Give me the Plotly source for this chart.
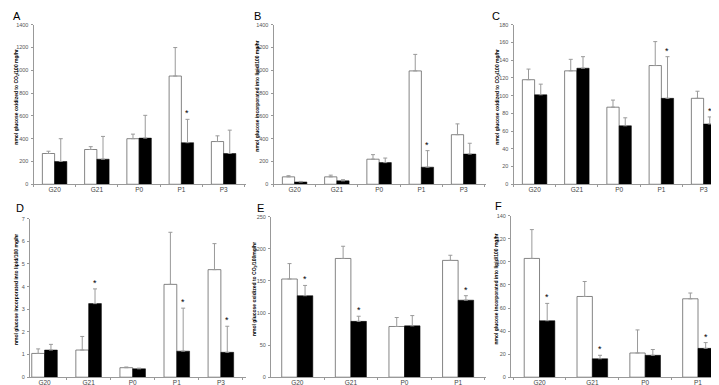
import plotly.graph_objects as go

# ---------------- data ----------------
cats5 = ["G20", "G21", "P0", "P1", "P3"]
cats4 = ["G20", "G21", "P0", "P1"]

A_white = [270, 305, 400, 950, 375]
A_white_err = [20, 25, 40, 250, 50]
A_black = [200, 220, 405, 365, 270]
A_black_err = [200, 200, 200, 205, 205]
A_stars = ["P1"]

B_white = [65, 65, 220, 995, 435]
B_white_err = [10, 15, 40, 145, 95]
B_black = [20, 30, 190, 150, 265]
B_black_err = [5, 10, 40, 145, 95]
B_stars = ["P1"]

C_white = [118, 128, 87, 134, 97]
C_white_err = [12, 13, 8, 27, 8]
C_black = [101, 131, 66, 97, 68]
C_black_err = [12, 13, 9, 47, 8]
C_stars = ["P1", "P3"]

D_white = [1.05, 1.2, 0.42, 4.1, 4.75]
D_white_err = [0.2, 0.6, 0.03, 2.3, 1.15]
D_black = [1.2, 3.25, 0.37, 1.15, 1.1]
D_black_err = [0.25, 0.65, 0.03, 1.9, 1.15]
D_stars = ["G21", "P1", "P3"]

E_white = [153, 185, 79, 182]
E_white_err = [24, 19, 14, 8]
E_black = [127, 87, 80, 120]
E_black_err = [16, 8, 16, 7]
E_stars = ["G20", "G21", "P1"]

F_white = [103, 70, 21, 68]
F_white_err = [25, 13, 20, 5]
F_black = [49, 16, 19, 25]
F_black_err = [15, 3, 5, 5]
F_stars = ["G20", "G21", "P1"]

titles = {
    "A": "nmol glucose oxidized to CO<sub>2</sub>/100 mg/hr",
    "B": "nmol glucose incorporated into lipid/100 mg/hr",
    "C": "nmol glucose oxidized to CO<sub>2</sub>/100 mg/hr",
    "D": "nmol glucose incorporated into lipid/100 mg/hr",
    "E": "nmol glucose oxidized to CO<sub>2</sub>/100mg/hr",
    "F": "nmol glucose incorporated into lipid/100 mg/hr",
}

W, H = 719, 385

# panel layout: (letter, cats, white, werr, black, berr, stars, ymax, dtick,
#                x0px, x1px, ytop_px, ybot_px, xrange, letter pos, title x)
panels = [
    ("A", cats5, A_white, A_white_err, A_black, A_black_err, A_stars, 1400, 200,
     25.5, 238, 14, 176, [-0.5, 4.53], (9, 5), 9),
    ("B", cats5, B_white, B_white_err, B_black, B_black_err, B_stars, 1400, 200,
     265.5, 478, 14, 176, [-0.5, 4.53], (249, 5), 249),
    ("C", cats5, C_white, C_white_err, C_black, C_black_err, C_stars, 180, 20,
     505.5, 718, 14, 176, [-0.5, 4.53], (488, 5), 490),
    ("D", cats5, D_white, D_white_err, D_black, D_black_err, D_stars, 7, 1,
     22, 238, 211, 372, [-0.33, 4.57], (12, 200), 8),
    ("E", cats4, E_white, E_white_err, E_black, E_black_err, E_stars, 250, 50,
     263, 478, 209, 372, [-0.49, 3.52], (252, 200), 246),
    ("F", cats4, F_white, F_white_err, F_black, F_black_err, F_stars, 140, 20,
     503, 718, 208, 372, [-0.54, 3.53], (490, 198), 488),
]

BARGAP = 0.42
half = (1 - BARGAP) / 4.0  # offset of each bar center from the category center

TITLE_FONT = "Liberation Sans Narrow, Arial Narrow, Liberation Sans, Arial"

fig = go.Figure()
annotations = []
layout_axes = {}

for i, (L, cats, wv, we, bv, be, stars, ymax, dt, x0, x1, yt, yb, xr, lp, tx) in enumerate(panels):
    n = i + 1
    xa = "x" if n == 1 else f"x{n}"
    ya = "y" if n == 1 else f"y{n}"
    fig.add_trace(go.Bar(
        x=cats, y=wv, xaxis=xa, yaxis=ya, showlegend=False,
        marker=dict(color="white", line=dict(color="#666666", width=0.8)),
        error_y=dict(type="data", array=we, arrayminus=[0] * len(we), symmetric=False,
                     color="#9a9a9a", thickness=1, width=2),
    ))
    fig.add_trace(go.Bar(
        x=cats, y=bv, xaxis=xa, yaxis=ya, showlegend=False,
        marker=dict(color="black", line=dict(color="black", width=0.5)),
        error_y=dict(type="data", array=be, arrayminus=[0] * len(be), symmetric=False,
                     color="#9a9a9a", thickness=1, width=2),
    ))
    xkey = "xaxis" if n == 1 else f"xaxis{n}"
    ykey = "yaxis" if n == 1 else f"yaxis{n}"
    layout_axes[xkey] = dict(
        domain=[x0 / W, x1 / W], anchor=ya, type="category",
        range=xr, showline=True, linecolor="#999999", linewidth=1,
        ticks="outside", ticklen=2, tickcolor="#999999", tickson="boundaries",
        ticklabelstandoff=-1,
        tickfont=dict(family="Liberation Sans, Arial", size=6.5, color="#444444"),
        showgrid=False, zeroline=False, fixedrange=True,
    )
    layout_axes[ykey] = dict(
        domain=[(H - yb) / H, (H - yt) / H], anchor=xa,
        range=[0, ymax], dtick=dt, tick0=0, showline=True, linecolor="#999999",
        linewidth=1, ticks="outside", ticklen=2, tickcolor="#999999",
        ticklabelstandoff=1,
        tickfont=dict(family="Liberation Sans, Arial", size=5.5, color="#555555"),
        showgrid=False, zeroline=False,
    )
    # significance stars above black bars
    for s in stars:
        k = cats.index(s)
        annotations.append(dict(
            x=k + half, y=bv[k] + be[k], xref=xa, yref=ya, text="*",
            showarrow=False, yanchor="bottom", yshift=-1,
            font=dict(family="Liberation Sans, Arial", size=9, color="black"),
        ))
    # panel letter
    annotations.append(dict(
        x=lp[0] / W, y=(H - lp[1]) / H, xref="paper", yref="paper", text=L,
        showarrow=False, xanchor="center", yanchor="middle",
        font=dict(family="Liberation Sans, Arial", size=11, color="black"),
    ))
    # y-axis title
    annotations.append(dict(
        x=tx / W, y=(H - (yt + yb) / 2 + 8) / H, xref="paper", yref="paper",
        text="<b>" + titles[L] + "</b>", textangle=-90, showarrow=False,
        xanchor="center", yanchor="middle",
        font=dict(family=TITLE_FONT, size=5, color="black"),
    ))

fig.update_layout(
    width=W, height=H, margin=dict(l=0, r=0, t=0, b=0),
    paper_bgcolor="white", plot_bgcolor="white",
    barmode="group", bargap=BARGAP, bargroupgap=0,
    annotations=annotations, **layout_axes,
)

fig.write_html("out.html")
